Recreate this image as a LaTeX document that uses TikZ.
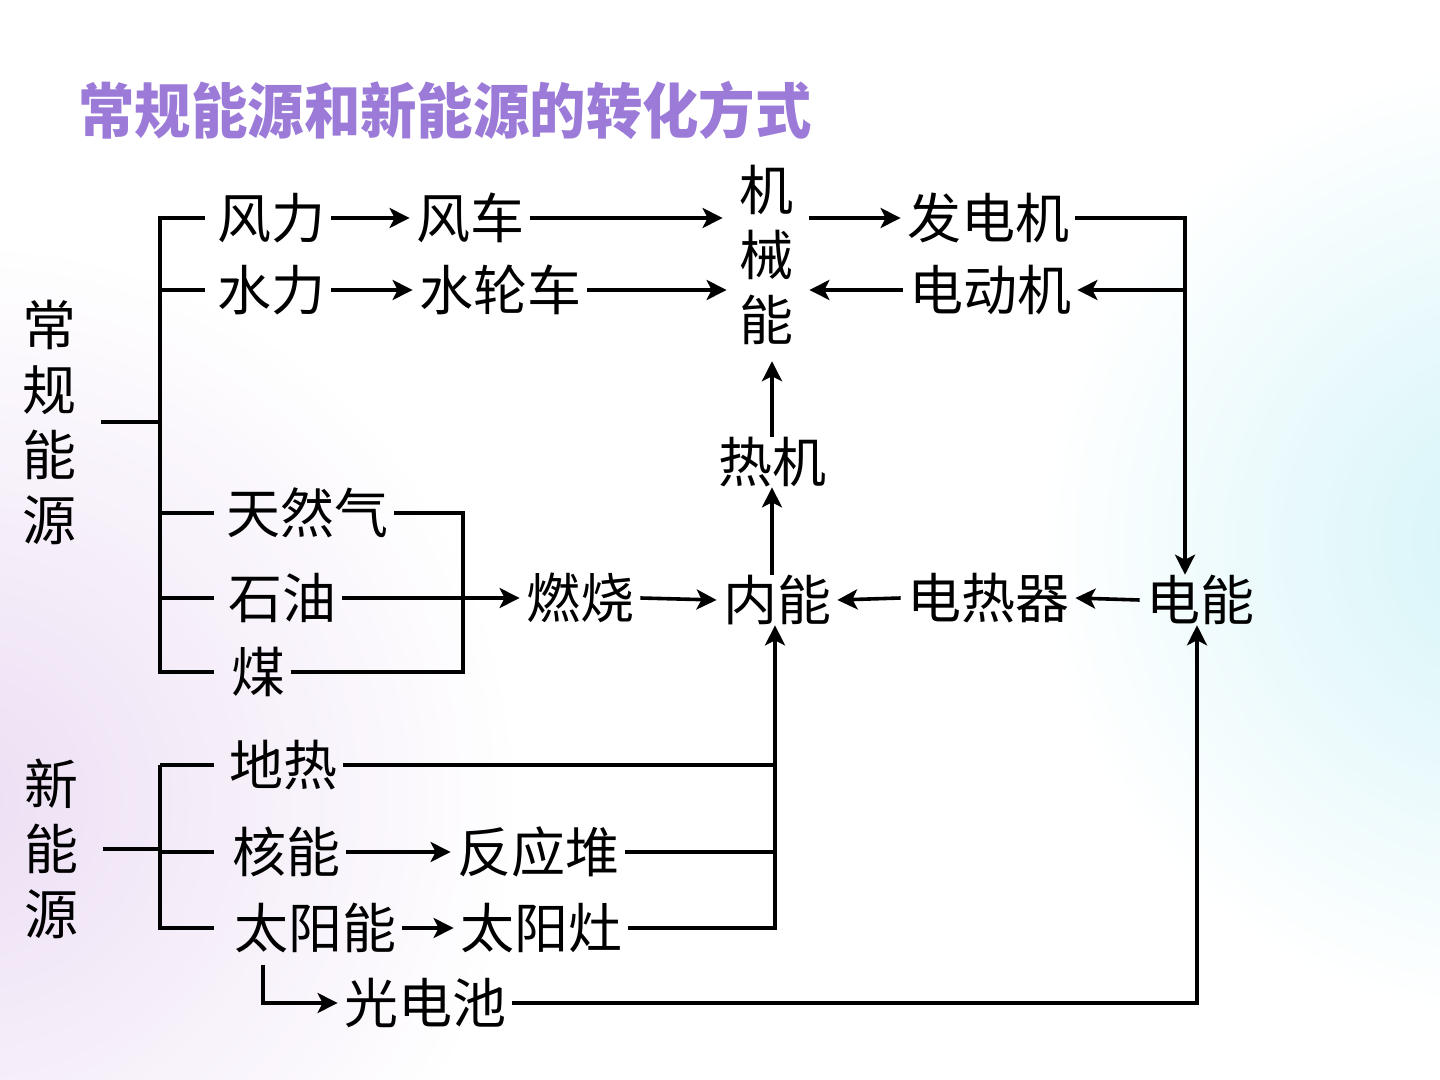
\documentclass[tikz,border=0pt]{standalone}
\usepackage{fontspec}
\newfontfamily\cjk{Noto Sans CJK SC}
\usetikzlibrary{arrows.meta}
\definecolor{ttlpurple}{RGB}{155,122,216}
\definecolor{bgpurple}{RGB}{236,222,244}
\definecolor{bgcyan}{RGB}{212,244,248}
\begin{document}
\begin{tikzpicture}[x=0.5pt,y=-0.5pt,
  lbl/.style={font=\cjk\fontsize{27pt}{32.5pt}\selectfont, inner xsep=3pt, inner ysep=0pt, align=center},
  vlbl/.style={lbl, inner xsep=0pt},
  conn/.style={line width=1.8pt},
  arr/.style={conn, -{Stealth[length=10pt,width=10pt,inset=2.5pt]}},
  ttl/.style={font=\cjk\bfseries\fontsize{30pt}{30pt}\selectfont, inner sep=0pt}]
\useasboundingbox (0,0) rectangle (1440,1080);
% background
\fill[white] (0,0) rectangle (1440,1080);
\shade[inner color=bgpurple, outer color=white] (-40,800) circle (560);
\shade[inner color=bgcyan, outer color=white] (1520,540) circle (480);
% title
\node[ttl, text=ttlpurple] (ttl) at (445,110) {\scalebox{0.94}[1]{常规能源和新能源的转化方式}};
% labels
\node[vlbl] (cg) at (50,422) {常\\规\\能\\源};
\node[vlbl] (xn) at (52,849) {新\\能\\源};
\node[lbl] (fl) at (271,218) {风力};
\node[lbl] (fc) at (470,218) {风车};
\node[lbl] (sl) at (271,290) {水力};
\node[lbl] (slc) at (500,290) {水轮车};
\node[vlbl] (jx) at (766,255) {机\\械\\能};
\node[lbl] (fdj) at (988,218) {发电机};
\node[lbl] (ddj) at (990,290) {电动机};
\node[lbl] (rj) at (772,462) {热机};
\node[lbl] (trq) at (307,513) {天然气};
\node[lbl] (sy) at (282,598) {石油};
\node[lbl] (mei) at (258,672) {煤};
\node[lbl] (rs) at (580,598) {燃烧};
\node[lbl] (nn) at (777,600) {内能};
\node[lbl] (drq) at (988,598) {电热器};
\node[lbl] (dn) at (1200,600) {电能};
\node[lbl] (dr) at (283,765) {地热};
\node[lbl] (hn) at (286,852) {核能};
\node[lbl] (fyd) at (538,852) {反应堆};
\node[lbl] (tyn) at (315,928) {太阳能};
\node[lbl] (tyz) at (541,928) {太阳灶};
\node[lbl] (gdc) at (425,1003) {光电池};
% helper coordinates
\coordinate (spa) at (160,0);
\coordinate (rx) at (1185,0);
\coordinate (rx2) at (1197,0);
\coordinate (cx) at (463,0);
\coordinate (nx) at (775,0);
\coordinate (sx) at (263,0);
% conventional bracket
\draw[conn] ([xshift=12pt]cg.east) -- (spa |- cg.east);
\draw[conn] ([xshift=-3pt]fl.west) -- (spa |- fl.west) -- (spa |- mei.west) -- ++(27pt,0);
\draw[conn] ([xshift=-3pt]sl.west) -- (spa |- sl.west);
\draw[conn] (spa |- trq.west) -- ++(27pt,0);
\draw[conn] (spa |- sy.west) -- ++(27pt,0);
% wind / water
\draw[arr] (fl.east) -- (fc.west);
\draw[arr] (fc.east) -- ([xshift=-8pt]jx.west |- fc.east);
\draw[arr] (sl.east) -- (slc.west |- sl.east);
\draw[arr] (slc.east) -- ([xshift=-6pt]jx.west |- slc.east);
% mechanical <-> electrical
\draw[arr] ([xshift=8pt]jx.east |- fdj.west) -- (fdj.west);
\draw[arr] (fdj.east) -| (rx |- dn.north);
\draw[arr] (rx |- ddj.east) -- (ddj.east);
\draw[arr] (ddj.west) -- ([xshift=8pt]jx.east |- ddj.west);
% heat engine
\draw[arr] (rj.north) -- ([yshift=-8pt]jx.south -| rj.north);
\draw[arr] (nn.north -| rj.south) -- (rj.south);
% fossil fuels
\draw[conn] (trq.east) -| (cx |- mei.east) -- (mei.east);
\draw[arr] (sy.east) -- (rs.west);
\draw[arr] (rs.east) -- (nn.west);
\draw[arr] (drq.west) -- (nn.east);
\draw[arr] (dn.west) -- (drq.east);
% new energy bracket
\draw[conn] ([xshift=12pt]xn.east) -- (spa |- xn.east);
\draw[conn] (spa |- dr.west) -- ++(27pt,0);
\draw[conn] (spa |- dr.west) -- (spa |- tyn.west) -- ++(27pt,0);
\draw[conn] (spa |- hn.west) -- ++(27pt,0);
% new energy connections
\draw[conn] (dr.east) -- (nx |- dr.east);
\draw[arr] (tyz.east) -| (nx |- nn.south);
\draw[arr] (hn.east) -- (fyd.west);
\draw[conn] (fyd.east) -- (nx |- fyd.east);
\draw[arr] (tyn.east) -- (tyz.west);
\draw[arr] ([yshift=-6pt]sx |- tyn.south) |- (gdc.west);
\draw[arr] (gdc.east) -| (rx2 |- dn.south);
\end{tikzpicture}
\end{document}
